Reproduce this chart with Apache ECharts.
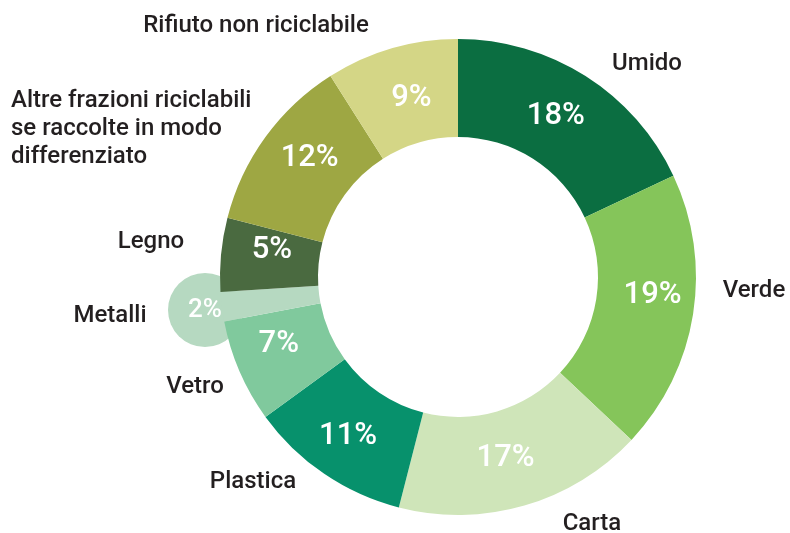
<!DOCTYPE html>
<html>
<head>
<meta charset="utf-8">
<script src="https://cdn.jsdelivr.net/npm/echarts@6/dist/echarts.min.js"></script>
<style>
  html, body { margin: 0; padding: 0; background: #fff; }
  #chart { width: 790px; height: 533px; }
</style>
</head>
<body>
<div id="chart"></div>
<script>
// dati
var categories = ['Umido', 'Verde', 'Carta', 'Plastica', 'Vetro', 'Metalli', 'Legno',
  'Altre frazioni riciclabili\nse raccolte in modo\ndifferenziato', 'Rifiuto non riciclabile'];
var values = [18, 19, 17, 11, 7, 2, 5, 12, 9];
var colors = ['#0b6e41', '#85c55a', '#cfe5b9', '#07916c', '#80c99d', '#b6d9c1', '#4a6a40', '#9ea743', '#d4d686'];

// posizione delle etichette con i nomi
var namePos = [
  [647, 64, 'center'], [754, 291, 'center'], [592, 524, 'center'], [253, 482, 'center'],
  [195, 387, 'center'], [110, 316, 'center'], [151, 242, 'center'], [11, 129, 'left'],
  [256, 26, 'center']
];
// piccoli spostamenti delle percentuali
var pctShift = [[-5, 1], [5, -12], [-6, -3], [-2, 0], [-3, -9], [0, 0], [5, -9], [7, -6], [7, 6]];
var bubbleIndex = categories.indexOf('Metalli');

var font = 'Roboto, "Noto Sans", sans-serif';
var center = [458, 277];

var ringData = categories.map(function (c, i) {
  var item = { name: c, value: values[i], itemStyle: { color: colors[i] } };
  if (i === bubbleIndex) item.label = { show: false };
  return item;
});
var ghostData = categories.map(function (c, i) {
  return { name: c, value: values[i] };
});

var myChart = echarts.init(document.getElementById('chart'));
myChart.setOption({
  animation: false,
  series: [
    {
      // bolla del 2% (sotto l'anello)
      type: 'pie', z: 1, silent: true,
      center: center, radius: [140, 238],
      startAngle: 90, avoidLabelOverlap: false,
      itemStyle: { color: 'rgba(0,0,0,0)' },
      data: ghostData.map(function (d, i) {
        return {
          name: d.name, value: d.value,
          label: { show: i === bubbleIndex }
        };
      }),
      label: {
        position: 'inside',
        formatter: '{c}%',
        color: '#fff',
        fontFamily: font,
        fontWeight: 500,
        fontSize: 26,
        backgroundColor: colors[bubbleIndex],
        width: 74, height: 74, lineHeight: 74,
        borderRadius: 37,
        align: 'center'
      },
      labelLine: { show: false },
      labelLayout: function () {
        return { x: 205, y: 310, align: 'center', verticalAlign: 'middle' };
      },
      emphasis: { disabled: true }
    },
    {
      type: 'pie', z: 2,
      center: center, radius: [140, 238],
      startAngle: 90, avoidLabelOverlap: false,
      data: ringData,
      label: {
        show: true,
        position: 'inside',
        formatter: '{c}%',
        color: '#fff',
        fontFamily: font,
        fontWeight: 500,
        fontSize: 31
      },
      labelLine: { show: false },
      labelLayout: function (params) {
        var s = pctShift[params.dataIndex];
        return { dx: s[0], dy: s[1] };
      },
      emphasis: { disabled: true }
    },
    {
      // nomi delle categorie
      type: 'pie', z: 3, silent: true,
      center: center, radius: [140, 238],
      startAngle: 90, avoidLabelOverlap: false,
      itemStyle: { color: 'rgba(0,0,0,0)' },
      data: ghostData,
      label: {
        show: true,
        position: 'outside',
        formatter: '{b}',
        color: '#231f20',
        fontFamily: font,
        fontWeight: 500,
        fontSize: 24,
        lineHeight: 28
      },
      labelLine: { show: false },
      labelLayout: function (params) {
        var p = namePos[params.dataIndex];
        return { x: p[0], y: p[1], align: p[2], verticalAlign: 'middle' };
      },
      emphasis: { disabled: true }
    }
  ]
});
</script>
</body>
</html>
